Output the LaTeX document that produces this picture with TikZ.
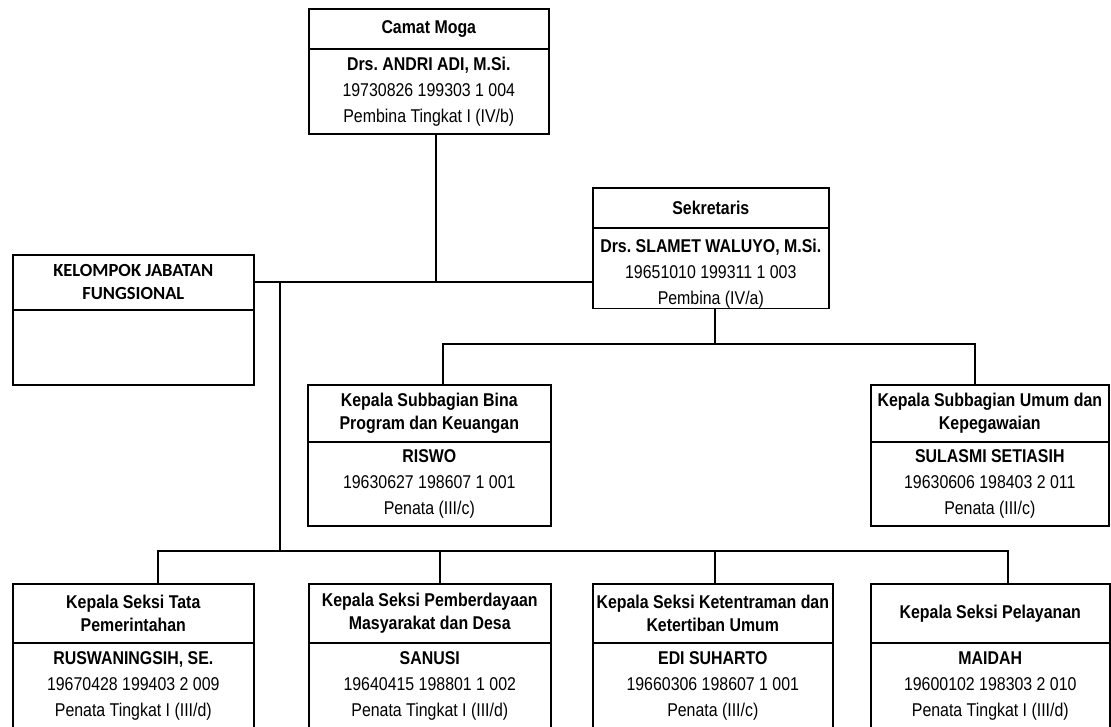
\documentclass[tikz,border=0pt]{standalone}
\usepackage{fontspec}
\setmainfont{Liberation Sans}[FakeStretch=0.86]
\newfontfamily\kjffont{Carlito}
\frenchspacing
\begin{document}
\begin{tikzpicture}[x=1pt,y=-1pt,
  boxbase/.style={draw=black,line width=1.6pt,rectangle,inner sep=0pt,anchor=north west,align=center},
  hd/.style={boxbase,font=\fontsize{18.5}{23}\selectfont\bfseries},
  bd/.style={boxbase,font=\fontsize{18.5}{26}\selectfont},
  conn/.style={draw=black,line width=1.1pt}]
\useasboundingbox (0,0) rectangle (1111,726);
\clip (0,0) rectangle (1111,726);
% Camat
\node[hd,minimum width=240pt,minimum height=40pt] (camatH) at (308,8) {Camat Moga};
\node[bd,minimum width=240pt,minimum height=85pt] (camatB) at (308,48) {\textbf{Drs. ANDRI ADI, M.Si.}\\19730826 199303 1 004\\Pembina Tingkat I (IV/b)};
% Sekretaris
\node[hd,minimum width=236pt,minimum height=40pt] (sekH) at (592,187) {Sekretaris};
\node[bd,minimum width=236pt,minimum height=79pt] (sekB) at (592,227) {\rule{0pt}{25pt}\textbf{Drs. SLAMET WALUYO, M.Si.}\\19651010 199311 1 003\\Pembina (IV/a)};
% KJF
\node[hd,minimum width=241pt,minimum height=55pt,font=\fontsize{18.5}{23}\selectfont\kjffont\bfseries] (kjfH) at (12,254) {KELOMPOK JABATAN\\FUNGSIONAL};
\node[bd,minimum width=241pt,minimum height=75pt] (kjfB) at (12,309) {};
% middle row
\node[hd,minimum width=243pt,minimum height=57pt] (binaH) at (307,384) {Kepala Subbagian Bina\\Program dan Keuangan};
\node[bd,minimum width=243pt,minimum height=84pt] (binaB) at (307,441) {\textbf{RISWO}\\19630627 198607 1 001\\Penata (III/c)};
\node[hd,minimum width=238pt,minimum height=57pt] (umumH) at (870,384) {Kepala Subbagian Umum dan\\Kepegawaian};
\node[bd,minimum width=238pt,minimum height=84pt] (umumB) at (870,441) {\textbf{SULASMI SETIASIH}\\19630606 198403 2 011\\Penata (III/c)};
% bottom row
\node[hd,minimum width=241pt,minimum height=59pt] (s1H) at (12,583) {Kepala Seksi Tata\\Pemerintahan};
\node[bd,minimum width=241pt,minimum height=87pt] (s1B) at (12,642) {\textbf{RUSWANINGSIH, SE.}\\19670428 199403 2 009\\Penata Tingkat I (III/d)};
\node[hd,minimum width=242pt,minimum height=59pt] (s2H) at (308,583) {Kepala Seksi Pemberdayaan\\Masyarakat dan Desa};
\node[bd,minimum width=242pt,minimum height=87pt] (s2B) at (308,642) {\textbf{SANUSI}\\19640415 198801 1 002\\Penata Tingkat I (III/d)};
\node[hd,minimum width=240pt,minimum height=59pt] (s3H) at (592,583) {Kepala Seksi Ketentraman dan\\Ketertiban Umum};
\node[bd,minimum width=240pt,minimum height=87pt] (s3B) at (592,642) {\textbf{EDI SUHARTO}\\19660306 198607 1 001\\Penata (III/c)};
\node[hd,minimum width=239pt,minimum height=59pt] (s4H) at (870,583) {Kepala Seksi Pelayanan};
\node[bd,minimum width=239pt,minimum height=87pt] (s4B) at (870,642) {\textbf{MAIDAH}\\19600102 198303 2 010\\Penata Tingkat I (III/d)};
% junctions
\coordinate (jc) at (436,282);
\coordinate (jt) at (280,282);
\coordinate (jb) at (280,551);
\coordinate (js) at (715,344);
\coordinate (jl) at (443,344);
\coordinate (jr) at (975,344);
\coordinate (d1) at (158,551);
\coordinate (d2) at (440,551);
\coordinate (d3) at (715,551);
\coordinate (d4) at (1008,551);
% connectors
\draw[conn] (camatB.south -| jc) -- (jc);
\draw[conn] (kjfH.east |- jc) -- (sekB.west |- jc);
\draw[conn] (jt) -- (jb);
\draw[conn] (sekB.south -| js) -- (js);
\draw[conn] (binaH.north -| jl) -- (jl) -- (jr) -- (umumH.north -| jr);
\draw[conn] (s1H.north -| d1) -- (d1) -- (d4) -- (s4H.north -| d4);
\draw[conn] (d2) -- (s2H.north -| d2);
\draw[conn] (d3) -- (s3H.north -| d3);
\end{tikzpicture}
\end{document}
